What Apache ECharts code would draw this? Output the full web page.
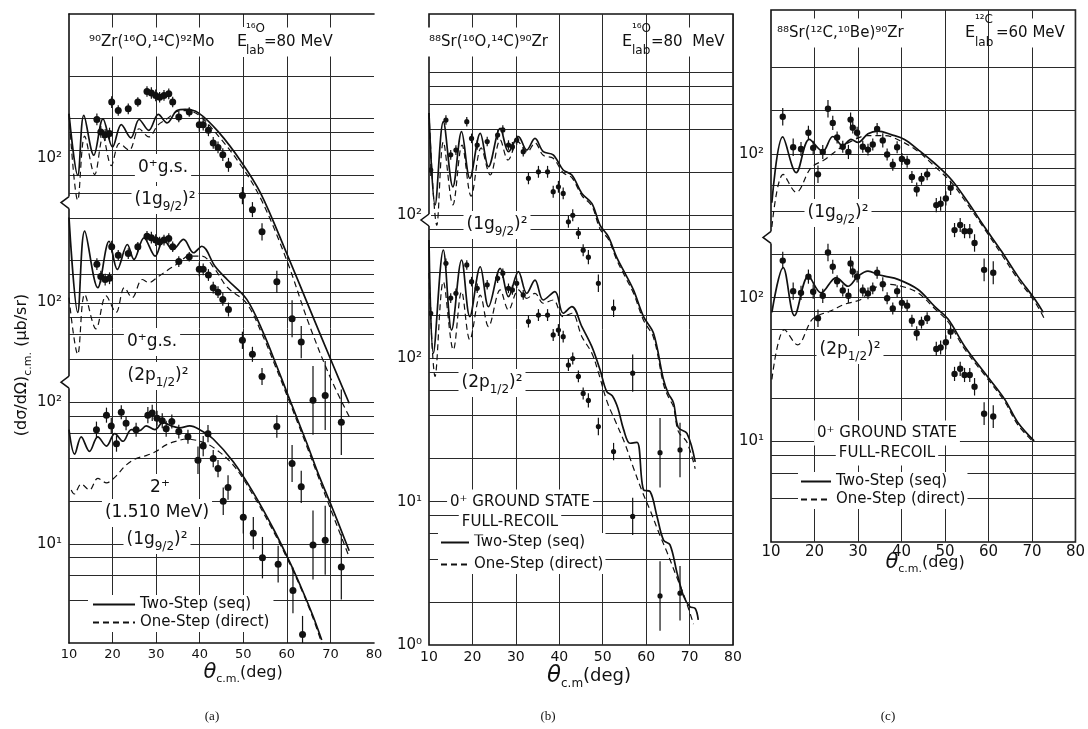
<!DOCTYPE html>
<html>
<head>
<meta charset="utf-8">
<title>Two-nucleon transfer angular distributions</title>
<script src="https://cdn.jsdelivr.net/npm/echarts@6/dist/echarts.min.js"></script>
<style>
  html, body { margin: 0; padding: 0; background: #fff; }
  #chart { width: 1088px; height: 729px; }
</style>
</head>
<body>
<div id="chart"></div>
<script>
// angles are theta c.m. in deg, cross sections in microbarn/sr
// data rows: [theta, value, error factor (bar goes value/f .. value*f)]

// ---- panel (a) 90Zr(16O,14C)92Mo ----
const aGsData = [[16.4,186,1.10],[17.3,152,1.10],[18.3,145,1.10],[19.3,148,1.10],[19.8,247,1.10],[21.3,215,1.09],[23.6,221,1.09],[25.8,247,1.08],[27.9,293,1.09],[28.9,286,1.10],[29.9,275,1.10],[30.8,267,1.09],[31.8,275,1.09],[32.9,282,1.09],[33.8,247,1.09],[35.2,194,1.09],[37.6,210,1.08],[39.9,171,1.12],[40.8,171,1.10],[42.0,156,1.10],[43.1,127,1.10],[44.2,118,1.10],[45.3,105,1.11],[46.6,89,1.12],[49.8,54,1.15],[52.1,43,1.13],[54.3,30,1.15],[57.7,13.3,1.2],[61.2,7.3,1.35],[63.3,5.0,1.3],[66.0,1.94,1.75],[68.8,2.1,1.75],[72.5,1.36,1.7]]
const a2Data = [[16.3,64,1.14],[18.6,81,1.13],[19.7,68,1.14],[20.9,51,1.14],[22.0,85,1.12],[23.1,71,1.12],[25.4,64,1.12],[28.1,81,1.14],[29.1,84,1.14],[30.2,77,1.13],[31.4,74,1.13],[32.3,65,1.14],[33.6,73,1.12],[35.2,62,1.12],[37.3,57,1.12],[39.6,39,1.25],[40.8,49,1.18],[41.9,60,1.15],[43.1,40,1.15],[44.2,34,1.15],[45.4,20,1.25],[46.5,25,1.22],[50.0,15.4,1.3],[52.3,11.9,1.3],[54.4,8.0,1.4],[58.0,7.2,1.35],[61.4,4.7,1.45],[63.6,2.3,1.35]]
const aG9Seq = [[10,204],[12,75],[13.4,199],[15.7,104],[17.8,188],[20,119],[22,171],[24.2,138],[26.1,186],[28.3,156],[30.5,202],[32.5,176],[34.8,215],[36.7,219],[39.7,207],[44.3,152],[49.6,93],[54,56],[60,21],[65.5,8.2],[70.5,3.5],[74.3,1.85]]
const aG9Dir = [[10,204],[12,50],[13.6,142],[15.9,76],[17.8,140],[19.7,88],[21.6,126],[23.8,113],[26.1,160],[28.3,140],[30.5,171],[32.5,188],[34.8,212],[36.7,215],[39.7,201],[44.3,142],[49.6,87],[54.2,50],[60,18.8],[65,6.8],[70,2.8],[74.5,1.45]]
const aP12Seq = [[10,397],[12,85],[13.6,318],[16.6,127],[19.2,270],[21.1,171],[23.4,256],[24.9,201],[27.2,285],[29.8,212],[31.7,278],[33.8,236],[36.3,278],[38.6,224],[40.5,249],[43.5,180],[46.3,145],[50.8,105],[54.6,61],[57.6,36],[60.3,22],[64.5,10.3],[67.1,6.3],[70.5,3.5],[74.3,1.77]]
const aP12Dir = [[10,108],[12,43],[13.6,114],[16.2,65],[18.5,111],[20.8,85],[22.7,127],[24.5,108],[26.8,145],[28.3,138],[30.6,153],[32.9,171],[35.2,190],[37.4,212],[40.5,212],[43.5,171],[46.3,128],[50.8,98],[54.6,57],[57.6,34],[60.3,21],[64.5,9.8],[67.1,6.0],[70.5,3.2],[74.3,1.6]]
const a2Seq = [[10,64],[11.3,43],[12.8,57],[14.7,45],[16.6,57],[18.6,49],[20.5,60],[22.4,53],[24.3,64],[26.2,63],[27.7,68],[29.7,64],[31.6,72],[33.5,68],[35.4,66],[37.7,68],[40,64],[43.1,55],[47.7,38],[52.3,23],[56.9,12.8],[60.7,7.4],[63.7,4.6],[66,3.1],[68,2.1]]
const a2Dir = [[10.5,24],[11.2,22.5],[12.8,26.5],[14.7,24],[16.6,29],[18.6,27],[20.5,29.5],[23.1,36],[25.4,40],[27.7,42],[30,45],[32.3,50],[34.6,53],[36.9,55],[40,53],[43.1,48],[47.7,36],[52.3,22],[56.9,12.3],[60.7,7.2],[63.7,4.5],[66,3.0],[68,2.0]]

// ---- panel (b) 88Sr(16O,14C)90Zr ----
const bGsData = [[10.4,207,1.1],[13.9,462,1.08],[15.0,264,1.08],[16.2,285,1.08],[18.7,450,1.08],[19.8,344,1.08],[21.1,309,1.08],[23.4,327,1.08],[25.8,363,1.08],[27.0,394,1.08],[28.3,309,1.08],[29.2,301,1.08],[30.2,335,1.08],[31.7,278,1.08],[32.9,181,1.1],[35.2,201,1.1],[37.3,201,1.1],[38.6,146,1.1],[39.8,158,1.1],[40.9,142,1.1],[42.1,90,1.1],[43.1,100,1.1],[44.4,75,1.1],[45.5,57,1.1],[46.7,51,1.12],[49.0,33.5,1.15],[52.5,22.4,1.15],[56.9,7.9,1.35],[63.2,2.2,1.75],[67.8,2.3,1.55]]
const bG9Seq = [[10,518],[11.4,118],[13.3,450],[15.5,158],[17.5,383],[19.4,181],[21.8,373],[23.7,218],[26.4,405],[28.3,278],[30.6,354],[32.5,285],[34.4,344],[36.3,278],[38.6,264],[40.9,207],[42.9,191],[45.2,142],[47.5,121],[49.4,85],[51.3,71],[53.2,51],[55.2,39],[57.1,30],[59.4,19.6],[61.7,15],[64,7.1],[65.1,5.7],[66.3,4.9],[67.4,3.3],[69.4,3.0],[71.3,1.9]]
const bG9Dir = [[10,518],[11.8,85],[13.3,325],[15.5,118],[17.6,309],[19.7,136],[22,295],[24.1,191],[26.4,335],[28.2,243],[30.5,325],[32.6,276],[34.4,320],[36.3,262],[38.6,250],[40.9,198],[42.9,183],[45.2,137],[47.5,116],[49.4,80],[51.3,68],[53.2,49],[55.2,37],[57.1,28.5],[59.4,18.5],[61.7,14],[64,6.6],[65.1,5.4],[66.3,4.6],[67.4,3.1],[69.4,2.6],[71.3,1.7]]
const bP12Seq = [[10,671],[11,109],[13.3,572],[15.2,158],[17.5,487],[19.4,196],[21.8,437],[23.7,230],[26.4,426],[28.3,270],[30.6,404],[32.5,285],[34.4,353],[36.3,256],[39,293],[40.9,207],[42.9,230],[45.2,167],[47.5,121],[49.4,83],[50.9,59],[52.2,55],[53.5,45],[54.8,32],[56.3,25.6],[57.9,26],[59.4,12.1],[60.9,11.8],[62.5,7.9],[64,5.4],[65.5,5.0],[67.1,3.2],[68.6,2.2],[70.1,1.85],[71.3,1.8],[72,1.5]]
const bP12Dir = [[10,395],[11.4,75],[13.3,344],[15.6,115],[17.5,293],[19.4,135],[21.8,277],[23.7,167],[26.4,301],[28.3,218],[30.6,301],[32.5,263],[34.4,285],[36.3,243],[38.6,256],[40.9,196],[42.9,207],[45.2,142],[47.5,109],[49,80],[51,50],[53,36],[55,26],[57,17.5],[59,12],[61,8.6],[63,6],[65,4.3],[67,3.0],[69,2.1],[70.9,1.4]]

// ---- panel (c) 88Sr(12C,10Be)90Zr ----
const cGsData = [[12.7,181,1.15],[15.1,111,1.15],[16.9,108,1.12],[18.6,140,1.12],[19.7,110,1.12],[20.8,72,1.15],[21.9,103,1.12],[23.1,206,1.15],[24.2,164,1.12],[25.2,130,1.1],[26.5,112,1.1],[27.8,103,1.12],[28.3,173,1.12],[28.8,152,1.1],[29.8,140,1.1],[31.1,112,1.1],[32.3,107,1.1],[33.4,116,1.1],[34.4,149,1.1],[35.7,124,1.12],[36.7,99,1.1],[38.0,84,1.1],[39.0,111,1.1],[40.1,92,1.1],[41.3,88,1.1],[42.4,69,1.1],[43.5,56.5,1.12],[44.6,67,1.1],[45.9,72,1.1],[48.0,44,1.12],[49.0,45,1.12],[50.2,49,1.12],[51.3,58,1.12],[52.2,29.5,1.12],[53.5,32,1.12],[54.5,29,1.12],[55.7,29,1.12],[56.8,24,1.15],[59.0,15.6,1.2],[61.1,14.9,1.2]]
const cG9Seq = [[10.2,45.7],[12.7,131],[15.8,74],[18.8,126],[21.9,104],[24.2,132],[26.5,114],[28.4,126],[30,120],[32.3,138],[34.6,144],[37.6,136],[40.7,126],[43.8,107],[47.6,86],[51.5,66],[55.3,46],[59.1,31],[63,21],[66.8,14],[70.7,9.7],[72.6,7.9]]
const cG9Dir = [[10.2,31],[12.8,72],[15.8,54],[19.2,80],[22.3,91],[25.4,107],[28.4,122],[32.3,134],[36.1,134],[40,122],[43.8,104],[47.6,82],[51.5,63],[55.3,44],[59.1,30],[63,20],[66.8,13.4],[70.7,9.3],[73,7.0]]
const cP12Seq = [[10.2,79],[12.8,162],[15.4,75],[18.6,141],[21.5,108],[25,138],[27.7,120],[30,141],[32.3,153],[34.6,145],[36.1,141],[39.2,134],[43.8,114],[47.6,87],[50.7,71],[54.5,46],[59.1,30],[63.7,19.7],[66.8,13.5],[70.5,10.1]]
const cP12Dir = [[10.2,27],[13.1,60],[16.1,47],[19.2,69],[20.8,75],[23.8,81],[26.9,90],[30.7,97],[32.3,108],[36.1,124],[40,120],[43.8,108],[47.6,84],[50.7,68],[54.5,44],[59.1,29],[63.7,19],[66.8,13],[70.5,9.8]]

const thetaMin = 10, thetaMax = 80, thetaStep = 10

// each configuration is shifted up the log scale by its own factor (break marks on the axis)
const aOffUp = 53.1, aOffMid = 5.06
const bOffUp = 10
const cOffUp = 10
const aBreaks = [2480, 134]
const bBreaks = [897]
const cBreaks = [254]

const SEQ = 'Two-Step (seq)'
const DIR = 'One-Step (direct)'
const FONT = 'DejaVu Sans'
const INK = '#111'

const chart = echarts.init(document.getElementById('chart'), null, { renderer: 'canvas' })

const grids = [
  { left: 69, top: 14, width: 305, height: 629 },
  { left: 429, top: 14, width: 304, height: 631, show: true, borderColor: INK, borderWidth: 1.6 },
  { left: 771, top: 10, width: 305, height: 532, show: true, borderColor: INK, borderWidth: 1.6 }
]
const yRange = [[2, 54800], [1, 25400], [2, 10000]]
const gridTop = [2e4, 1e4, 4000] // no rules inside the heading strip
const yTickText = [
  [[10, '10¹'], [100, '10²'], [100 * aOffMid, '10²'], [100 * aOffUp, '10²']],
  [[1, '10⁰'], [10, '10¹'], [100, '10²'], [100 * bOffUp, '10²']],
  [[10, '10¹'], [100, '10²'], [100 * cOffUp, '10²']]
]
const xFont = [13, 14, 15]

function hLines(lo, hi, extra) {
  const out = []
  for (let e = 0; e <= 4; e++) {
    for (const k of [1, 2, 4, 6, 8]) {
      const v = k * Math.pow(10, e)
      if (v > lo * 1.001 && v <= hi * 1.001) out.push(v)
    }
  }
  return out.concat(extra || [])
}
const gridRules = [
  hLines(2, gridTop[0], [300, 500, 3000]),
  hLines(1, gridTop[1]),
  hLines(2, gridTop[2])
]

function curve(name, g, pts, off, dashed, withRules) {
  const s = {
    type: 'line', name, xAxisIndex: g, yAxisIndex: g,
    data: pts.map(p => [p[0], p[1] * off]),
    symbol: 'none', showSymbol: false, smooth: 0.35, silent: true, z: 3,
    lineStyle: { color: INK, width: dashed ? 1.2 : 1.7, type: dashed ? [6, 4] : 'solid' },
    itemStyle: { color: INK }
  }
  if (withRules) {
    s.markLine = {
      silent: true, symbol: 'none', z: 1, animation: false,
      label: { show: false },
      lineStyle: { color: '#2a2a2a', width: 1, type: 'solid' },
      data: gridRules[g].map(v => ({ yAxis: v }))
    }
  }
  return s
}

function points(g, rows, off, r) {
  return {
    type: 'custom', name: 'data', xAxisIndex: g, yAxisIndex: g, clip: true, silent: true, z: 4,
    data: rows.map(d => [d[0], d[1] * off, d[2]]),
    encode: { x: 0, y: 1 },
    renderItem: function (params, api) {
      const x = api.value(0), v = api.value(1), f = api.value(2)
      const p = api.coord([x, v])
      const hi = api.coord([x, v * f])
      const lo = api.coord([x, v / f])
      return {
        type: 'group',
        children: [
          { type: 'line', shape: { x1: p[0], y1: hi[1], x2: p[0], y2: lo[1] }, style: { stroke: INK, lineWidth: 1.2 } },
          { type: 'circle', shape: { cx: p[0], cy: p[1], r: r }, style: { fill: INK } }
        ]
      }
    }
  }
}

const xAxes = [0, 1, 2].map(g => ({
  gridIndex: g, type: 'value', min: thetaMin, max: thetaMax, interval: thetaStep,
  axisLine: { show: g === 0, onZero: false, lineStyle: { color: INK, width: 1.6 } },
  axisTick: { show: false },
  axisLabel: { color: INK, fontFamily: FONT, fontSize: xFont[g], margin: g === 2 ? 3 : 5 },
  splitLine: { show: true, showMinLine: false, showMaxLine: g !== 0, lineStyle: { color: '#2a2a2a', width: 1 } }
}))
// top edge of panel (a), which has no right edge
xAxes.push({
  gridIndex: 0, type: 'value', position: 'top', min: thetaMin, max: thetaMax,
  axisLine: { show: true, onZero: false, lineStyle: { color: INK, width: 1.6 } },
  axisTick: { show: false }, axisLabel: { show: false }, splitLine: { show: false }
})

const yAxes = [0, 1, 2].map(g => ({
  gridIndex: g, type: 'log', logBase: 10, min: yRange[g][0], max: yRange[g][1],
  axisLine: { show: g === 0, onZero: false, lineStyle: { color: INK, width: 1.6 } },
  axisTick: { show: false },
  splitLine: { show: false },
  axisLabel: {
    customValues: yTickText[g].map(t => t[0]),
    color: INK, fontFamily: FONT, fontSize: 15, margin: 7,
    formatter: function (val) {
      const hit = yTickText[g].find(t => Math.abs(Math.log10(t[0]) - Math.log10(val)) < 1e-6)
      return hit ? hit[1] : ''
    }
  }
}))

// legend shows only the line sample (the marker is made transparent)
const legendBase = {
  orient: 'vertical', data: [SEQ, DIR], selectedMode: false, backgroundColor: '#fff',
  textStyle: { color: INK, fontFamily: FONT, fontSize: 15 }, itemHeight: 10,
  itemStyle: { opacity: 0 }
}

const series = [
  curve(SEQ, 0, aG9Seq, aOffUp, false, true),
  curve(DIR, 0, aG9Dir, aOffUp, true),
  curve(SEQ, 0, aP12Seq, aOffMid, false),
  curve(DIR, 0, aP12Dir, aOffMid, true),
  curve(SEQ, 0, a2Seq, 1, false),
  curve(DIR, 0, a2Dir, 1, true),
  points(0, aGsData, aOffUp, 3.5),
  points(0, aGsData, aOffMid, 3.5),
  points(0, a2Data, 1, 3.5),

  curve(SEQ, 1, bG9Seq, bOffUp, false, true),
  curve(DIR, 1, bG9Dir, bOffUp, true),
  curve(SEQ, 1, bP12Seq, 1, false),
  curve(DIR, 1, bP12Dir, 1, true),
  points(1, bGsData, bOffUp, 2.6),
  points(1, bGsData, 1, 2.6),

  curve(SEQ, 2, cG9Seq, cOffUp, false, true),
  curve(DIR, 2, cG9Dir, cOffUp, true),
  curve(SEQ, 2, cP12Seq, 1, false),
  curve(DIR, 2, cP12Dir, 1, true),
  points(2, cGsData, cOffUp, 3.2),
  points(2, cGsData, 1, 3.2)
]

chart.setOption({
  animation: false,
  backgroundColor: '#fff',
  grid: grids,
  xAxis: xAxes,
  yAxis: yAxes,
  legend: [
    Object.assign({}, legendBase, { left: 88, top: 595, itemWidth: 42, itemGap: 3, padding: [2, 4] }),
    Object.assign({}, legendBase, { left: 438, top: 533, itemWidth: 28, itemGap: 7, padding: [2, 2] }),
    Object.assign({}, legendBase, { left: 798, top: 472, itemWidth: 30, itemGap: 3, padding: [2, 2] })
  ],
  series
})

// ---- text and axis-break marks ----
function rich(size) {
  return {
    s: { fontSize: Math.round(size * 0.68), lineHeight: Math.round(size * 0.68), verticalAlign: 'bottom', fontFamily: FONT, fill: INK },
    th: { fontSize: Math.round(size * 1.3), lineHeight: Math.round(size * 1.5), fontStyle: 'italic', fontFamily: FONT, fill: INK }
  }
}
function label(x, y, text, size, extra, z) {
  return {
    type: 'text', x, y, z: z || 50, silent: true,
    style: Object.assign({
      text, fill: INK, fontFamily: FONT, fontSize: size, lineHeight: Math.round(size * 1.5),
      align: 'center', verticalAlign: 'middle', rich: rich(size)
    }, extra || {})
  }
}
const left = { align: 'left' }
const bg = { backgroundColor: '#fff', padding: [1, 3] }
const lbg = { align: 'left', backgroundColor: '#fff', padding: [3, 3] }

const texts = [
  // (a)
  label(86, 42, '⁹⁰Zr(¹⁶O,¹⁴C)⁹²Mo', 15, lbg),
  label(234, 42, 'E', 16, lbg),
  label(246, 29, '¹⁶O', 12, left, 52),
  label(246, 51, 'lab', 12, left, 52),
  label(261, 42, '=80 MeV', 15, lbg),
  label(163, 168, '0⁺g.s.', 17, bg),
  label(165, 200, '(1g{s|9/2})²', 17, bg),
  label(152, 342, '0⁺g.s.', 17, bg),
  label(158, 376, '(2p{s|1/2})²', 17, bg),
  label(160, 488, '2⁺', 17, bg),
  label(157, 513, '(1.510 MeV)', 17, bg),
  label(157, 540, '(1g{s|9/2})²', 17, bg),
  label(243, 673, '{th|θ}{s|c.m.}(deg)', 16),
  label(212, 717, '(a)', 13, { fontFamily: 'Liberation Serif' }),
  {
    type: 'text', x: 22, y: 365, z: 50, rotation: Math.PI / 2, silent: true,
    style: { text: '(dσ/dΩ){s|c.m.} (μb/sr)', fill: INK, fontFamily: FONT, fontSize: 16, lineHeight: 24, align: 'center', verticalAlign: 'middle', rich: rich(16) }
  },
  // (b)
  label(426, 42, '⁸⁸Sr(¹⁶O,¹⁴C)⁹⁰Zr', 15, lbg),
  label(619, 42, 'E', 16, lbg),
  label(632, 29, '¹⁶O', 12, left, 52),
  label(632, 51, 'lab', 12, left, 52),
  label(648, 42, '=80  MeV', 15, lbg),
  label(497, 225, '(1g{s|9/2})²', 17, bg),
  label(492, 383, '(2p{s|1/2})²', 17, bg),
  label(520, 502, '0⁺ GROUND STATE', 15, bg),
  label(510, 522, 'FULL-RECOIL', 15, bg),
  label(589, 676, '{th|θ}{s|c.m}(deg)', 18),
  label(548, 717, '(b)', 13, { fontFamily: 'Liberation Serif' }),
  // (c)
  label(774, 33, '⁸⁸Sr(¹²C,¹⁰Be)⁹⁰Zr', 15, lbg),
  label(962, 33, 'E', 16, lbg),
  label(975, 20, '¹²C', 12, left, 52),
  label(975, 43, 'lab', 12, left, 52),
  label(993, 33, '=60 MeV', 15, lbg),
  label(838, 213, '(1g{s|9/2})²', 17, bg),
  label(850, 350, '(2p{s|1/2})²', 17, bg),
  label(887, 433, '0⁺ GROUND STATE', 15, bg),
  label(887, 453, 'FULL-RECOIL', 15, bg),
  label(925, 563, '{th|θ}{s|c.m.}(deg)', 16),
  label(888, 717, '(c)', 13, { fontFamily: 'Liberation Serif' })
]

function breakMark(g, value) {
  const p = chart.convertToPixel({ xAxisIndex: g, yAxisIndex: g }, [thetaMin, value])
  const x = p[0], y = p[1]
  return [
    { type: 'rect', z: 40, silent: true, shape: { x: x - 2, y: y - 8, width: 4, height: 12 }, style: { fill: '#fff' } },
    { type: 'polyline', z: 41, silent: true, shape: { points: [[x, y - 8], [x - 8, y - 2], [x, y + 4]] }, style: { stroke: INK, lineWidth: 1.5, fill: null } }
  ]
}
const marks = []
aBreaks.forEach(v => marks.push(...breakMark(0, v)))
bBreaks.forEach(v => marks.push(...breakMark(1, v)))
cBreaks.forEach(v => marks.push(...breakMark(2, v)))

chart.setOption({ graphic: { elements: marks.concat(texts) } })
</script>
</body>
</html>
